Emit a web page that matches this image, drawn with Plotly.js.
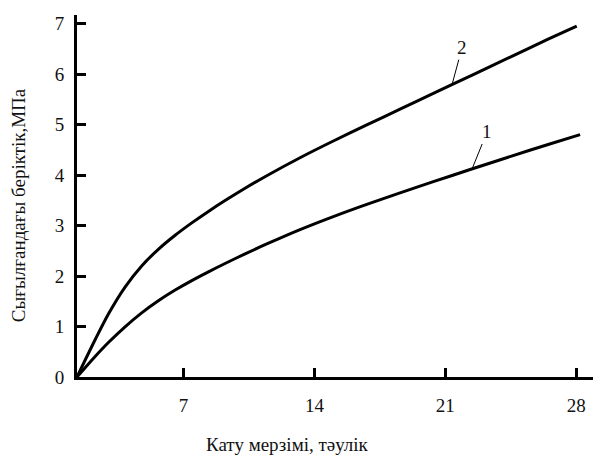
<!DOCTYPE html>
<html>
<head>
<meta charset="utf-8">
<script src="https://cdn.plot.ly/plotly-3.0.1.min.js"></script>
<style>html,body{margin:0;padding:0;background:#fff;}#chart{width:593px;height:455px;}</style>
</head>
<body>
<div id="chart"></div>
<script>
// Curve 2 (upper)
const days2 = [1.3, 2.27, 2.98, 3.87, 4.76, 5.65, 6.55, 7.44, 8.33, 9.22, 10.29, 11.45, 13.23, 15.01, 16.8, 18.58, 20.36, 22.41, 24.5, 26.5, 28.03];
const strength2 = [0, 0.737, 1.248, 1.782, 2.20, 2.529, 2.808, 3.053, 3.28, 3.494, 3.738, 3.987, 4.343, 4.674, 4.993, 5.305, 5.617, 5.976, 6.341, 6.691, 6.95];
// Curve 1 (lower)
const days1 = [1.3, 2.27, 2.98, 3.87, 4.76, 5.65, 6.55, 7.44, 8.33, 9.22, 10.29, 11.45, 13.23, 15.01, 16.8, 18.58, 20.36, 22.41, 24.5, 26.5, 28.21];
const strength1 = [0, 0.407, 0.684, 0.995, 1.271, 1.511, 1.723, 1.91, 2.083, 2.248, 2.438, 2.635, 2.92, 3.178, 3.42, 3.648, 3.869, 4.119, 4.37, 4.606, 4.80];
const xTicks = [7, 14, 21, 28];
const yTicks = [0, 1, 2, 3, 4, 5, 6, 7];
const curveLabels = ["1", "2"];
const labelPoints = [[22.43, 4.12], [21.36, 5.79]];

const font = {family: "Liberation Serif, Times New Roman, serif", size: 19, color: "#111"};
const lineStyle = {color: "#000", width: 3, shape: "spline", smoothing: 0.8};

const traces = [
  {x: days1, y: strength1, mode: "lines", line: lineStyle, hoverinfo: "skip"},
  {x: days2, y: strength2, mode: "lines", line: lineStyle, hoverinfo: "skip"}
];

const layout = {
  width: 593, height: 455,
  margin: {l: 77, r: 0, t: 15, b: 78},
  paper_bgcolor: "#fff", plot_bgcolor: "#fff",
  showlegend: false,
  font: font,
  xaxis: {
    range: [1.3, 28.9], tickvals: xTicks, ticktext: xTicks.map(String),
    showgrid: false, zeroline: false, showline: true, linecolor: "#000", linewidth: 3,
    ticks: "inside", ticklen: 9, tickwidth: 3, tickcolor: "#000",
    ticklabelstandoff: 9, tickfont: font
  },
  yaxis: {
    range: [0, 7.17], tickvals: yTicks, ticktext: yTicks.map(String),
    showgrid: false, zeroline: false, showline: true, linecolor: "#000", linewidth: 3,
    ticks: "inside", ticklen: 9, tickwidth: 3, tickcolor: "#000",
    ticklabelstandoff: 6, tickfont: font
  },
  annotations: [
    {text: "Кату мерзімі, тәулік", xref: "paper", yref: "paper", x: 0.407, y: -0.186,
     xanchor: "center", yanchor: "middle", showarrow: false, font: font},
    {text: "Сығылғандағы беріктік,МПа", xref: "paper", yref: "paper", x: -0.114, y: 0.475,
     xanchor: "center", yanchor: "middle", textangle: -90, showarrow: false, font: font}
  ].concat(curveLabels.map((t, i) => ({
    text: t, x: labelPoints[i][0], y: labelPoints[i][1], xref: "x", yref: "y",
    showarrow: true, arrowhead: 0, arrowwidth: 1, arrowcolor: "#000",
    ax: i === 0 ? 15 : 10, ay: -37, font: font
  })))
};

Plotly.newPlot("chart", traces, layout, {displayModeBar: false, staticPlot: true});
</script>
</body>
</html>
